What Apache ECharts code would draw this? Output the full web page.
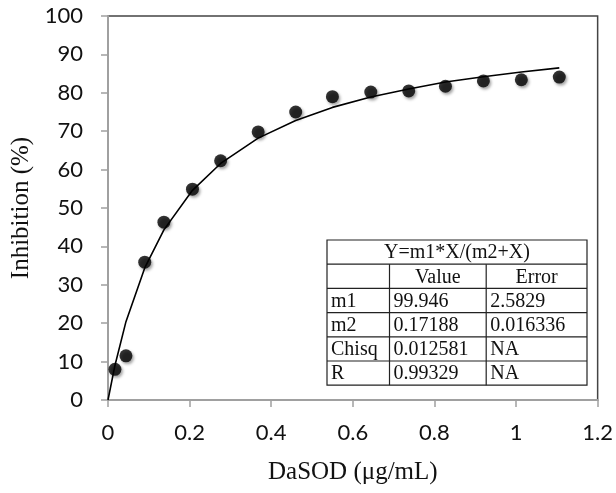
<!DOCTYPE html>
<html>
<head>
<meta charset="utf-8">
<script src="https://cdn.jsdelivr.net/npm/echarts@6/dist/echarts.min.js"></script>
<style>
  html, body { margin: 0; padding: 0; background: #fff; }
  #chart { width: 616px; height: 493px; }
</style>
</head>
<body>
<div id="chart"></div>
<script>
// measured points
var doseX = [0.017, 0.044, 0.09, 0.137, 0.207, 0.276, 0.368, 0.46, 0.55, 0.644, 0.737, 0.827, 0.92, 1.013, 1.106];
var inhibY = [8.0, 11.5, 35.9, 46.3, 54.9, 62.3, 69.8, 75.0, 79.0, 80.2, 80.5, 81.7, 83.1, 83.4, 84.1];
// fitted curve
var fitX = [0, 0.017, 0.044, 0.09, 0.137, 0.207, 0.276, 0.368, 0.46, 0.55, 0.644, 0.737, 0.827, 0.92, 1.013, 1.106];
var fitY = [0, 9.0, 20.4, 34.4, 44.3, 54.6, 61.6, 68.2, 72.8, 76.2, 78.9, 81.0, 82.8, 84.2, 85.4, 86.5];

var tableTitle = "Y=m1*X/(m2+X)";
var tableHead = ["", "Value", "Error"];
var tableRows = [
  ["m1", "99.946", "2.5829"],
  ["m2", "0.17188", "0.016336"],
  ["Chisq", "0.012581", "NA"],
  ["R", "0.99329", "NA"]
];

var chart = echarts.init(document.getElementById("chart"));

// table drawing
var tx = 327, ty = 240, rowH = 24.2;
var colW = [62.5, 96.7, 100.8];
var tw = colW[0] + colW[1] + colW[2];
var nRows = 2 + tableRows.length;
var g = [];
var lineStyle = { stroke: "#222", lineWidth: 1.2 };
g.push({ type: "rect", shape: { x: tx, y: ty, width: tw, height: rowH * nRows }, style: { fill: "#fff", stroke: "#222", lineWidth: 1.2 }, z: 10 });
for (var r = 1; r < nRows; r++) {
  g.push({ type: "line", shape: { x1: tx, y1: ty + r * rowH, x2: tx + tw, y2: ty + r * rowH }, style: lineStyle, z: 11 });
}
var c1 = tx + colW[0], c2 = c1 + colW[1];
[c1, c2].forEach(function (cx) {
  g.push({ type: "line", shape: { x1: cx, y1: ty + rowH, x2: cx, y2: ty + rowH * nRows }, style: lineStyle, z: 11 });
});
var txtFont = '20px "Liberation Serif", "Times New Roman", serif';
g.push({ type: "text", x: tx + tw / 2, y: ty + rowH / 2 + 1, style: { text: tableTitle, font: txtFont, fill: "#111", align: "center", verticalAlign: "middle" }, z: 12 });
var colX = [tx, c1, c2];
tableHead.forEach(function (h, i) {
  g.push({ type: "text", x: colX[i] + colW[i] / 2, y: ty + rowH * 1.5 + 1, style: { text: h, font: txtFont, fill: "#111", align: "center", verticalAlign: "middle" }, z: 12 });
});
tableRows.forEach(function (row, ri) {
  row.forEach(function (cell, ci) {
    g.push({ type: "text", x: colX[ci] + 4, y: ty + rowH * (2.5 + ri) + 1, style: { text: cell, font: txtFont, fill: "#111", align: "left", verticalAlign: "middle" }, z: 12 });
  });
});

chart.setOption({
  animation: false,
  grid: { left: 108, right: 16, top: 16, bottom: 93, show: true, borderColor: "#444", borderWidth: 1.5 },
  xAxis: {
    type: "value", min: 0, max: 1.2, interval: 0.2,
    name: "DaSOD (μg/mL)", nameLocation: "middle", nameGap: 60,
    nameTextStyle: { fontFamily: "Liberation Serif", fontSize: 25, color: "#111" },
    axisLine: { show: true, lineStyle: { color: "#a0a0a0", width: 2 } },
    axisTick: { show: true, length: 7, lineStyle: { color: "#a0a0a0", width: 1.5 } },
    axisLabel: { margin: 22, fontFamily: "Lato", fontSize: 22, color: "#111" },
    splitLine: { show: false }
  },
  yAxis: {
    type: "value", min: 0, max: 100, interval: 10,
    name: "Inhibition (%)", nameLocation: "middle", nameGap: 71,
    nameTextStyle: { fontFamily: "Liberation Serif", fontSize: 25, color: "#111" },
    axisLine: { show: true, lineStyle: { color: "#a0a0a0", width: 2 } },
    axisTick: { show: true, length: 7, lineStyle: { color: "#a0a0a0", width: 1.5 } },
    axisLabel: { margin: 25, fontFamily: "Lato", fontSize: 22, color: "#111" },
    splitLine: { show: false }
  },
  series: [
    {
      type: "line",
      data: fitX.map(function (x, i) { return [x, fitY[i]]; }),
      showSymbol: false,
      lineStyle: { color: "#000", width: 1.6 },
      z: 2
    },
    {
      type: "scatter",
      data: doseX.map(function (x, i) { return [x, inhibY[i]]; }),
      symbol: "circle",
      symbolSize: 13,
      itemStyle: { color: "#000", shadowBlur: 3, shadowColor: "rgba(0,0,0,0.45)", shadowOffsetX: 1.5, shadowOffsetY: 2 },
      z: 3
    }
  ],
  graphic: g
});
</script>
</body>
</html>
